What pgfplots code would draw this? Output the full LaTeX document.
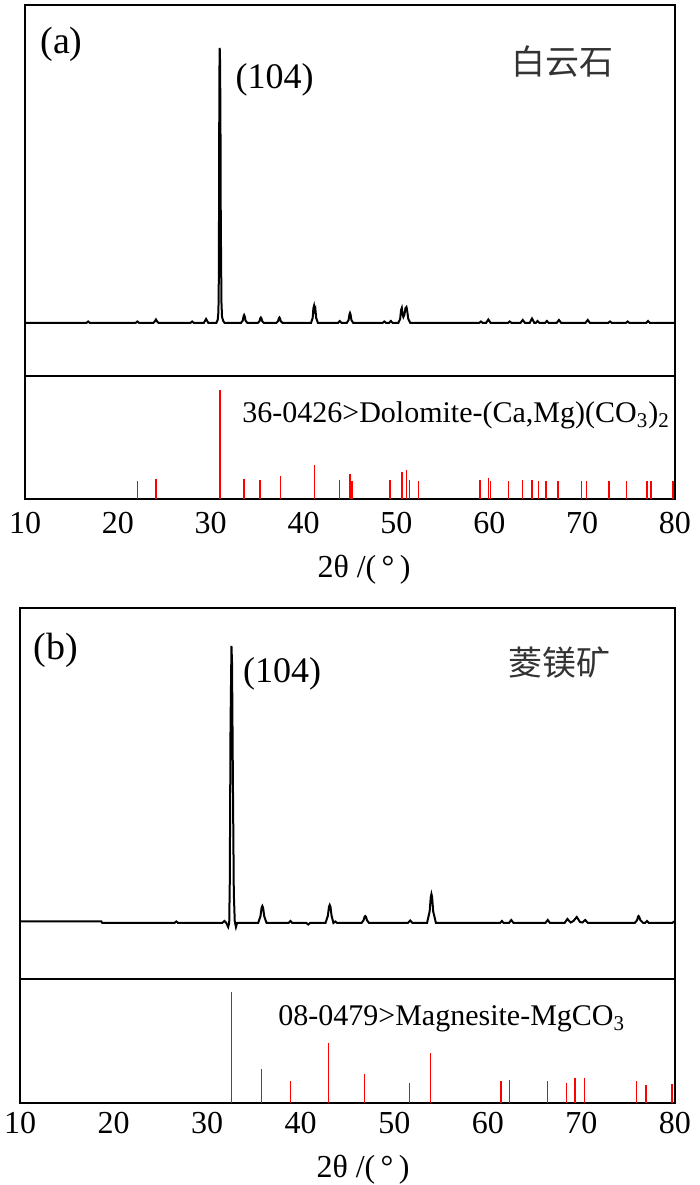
\documentclass[border=0pt]{standalone}
\usepackage{fontspec}
\setmainfont{Liberation Serif}
\newfontfamily\cjk{Noto Sans CJK SC}
\usepackage{pgfplots}
\pgfplotsset{compat=1.18}

% 1 px of the reference = 0.5pt
\pgfplotsset{
  xrd/.style={scale only axis, xmin=10, xmax=80, ytick=\empty,
    axis line style={line width=1.1pt}, anchor=south west},
  pattern/.style={xrd, xtick=\empty},
  card/.style={xrd, ymin=0, ymax=123, xtick={10,20,...,80}, major tick length=0pt,
    /pgf/number format/assume math mode=true,
    xticklabel style={font=\fontsize{16}{16}\selectfont, anchor=base}},
}

\begin{document}
\begin{tikzpicture}
\useasboundingbox (0,0) rectangle (350pt,592.5pt);

% ---------------- (a) dolomite ----------------
\begin{axis}[pattern, at={(12.5pt,404.5pt)}, width=325pt, height=185.5pt,
    ymin=-53, ymax=318]
\addplot[black, line width=1pt] coordinates {
 (10,0) (16.6,0)(16.8,1.5)(17.0,0) (21.9,0)(22.1,1.5)(22.3,0)
 (23.8,0)(23.95,1.2)(24.1,3.5)(24.25,1.2)(24.4,0)
 (27.8,0)(28.0,1.5)(28.2,0) (29.25,0)(29.5,4)(29.75,0)
 (30.6,0)(30.75,3)(30.82,10)(30.86,26)(30.9,120)(30.93,246)(30.97,275)(31.01,260)
 (31.05,200)(31.08,114)(31.12,60)(31.16,20)(31.22,6)(31.35,2)(31.5,0)
 (33.25,0)(33.45,2.4)(33.54,6.8)(33.6,8)(33.66,6.8)(33.75,2.4)(33.95,0)
 (35.05,0)(35.25,1.7)(35.34,4.7)(35.4,5.5)(35.46,4.7)(35.55,1.7)(35.75,0)
 (37.05,0)(37.25,1.7)(37.34,4.7)(37.4,5.5)(37.46,4.7)(37.55,1.7)(37.75,0)
 (40.8,0)(40.98,5)(41.06,15)(41.12,17)(41.18,12)(41.22,11)(41.28,13)(41.36,5)(41.55,0)
 (43.7,0)(43.9,2)(44.1,0)
 (44.65,0)(44.85,3)(44.94,8.5)(45.0,10)(45.06,8.5)(45.15,3)(45.35,0)
 (48.5,0)(48.7,1.5)(48.9,0) (49.2,0)(49.4,2)(49.6,0)
 (50.2,0)(50.4,4)(50.5,13)(50.58,15)(50.66,9)(50.75,6)(50.85,8)(50.98,15)(51.08,16)(51.16,12)(51.28,4)(51.5,0)
 (58.9,0)(59.1,1.5)(59.3,0) (59.65,0)(59.9,3.5)(60.15,0)
 (62.0,0)(62.2,1.5)(62.4,0) (63.35,0)(63.6,3)(63.85,0)
 (64.35,0)(64.6,4.5)(64.85,0) (65.0,0)(65.2,2)(65.4,0)
 (66.0,0)(66.2,2)(66.4,0) (67.25,0)(67.5,3)(67.75,0)
 (70.35,0)(70.6,3)(70.85,0) (72.8,0)(73.0,1.5)(73.2,0)
 (74.7,0)(74.9,1.5)(75.1,0) (76.9,0)(77.1,2)(77.3,0) (80,0)
};
\end{axis}

\begin{axis}[card, at={(12.5pt,343pt)}, width=325pt, height=61.5pt,
    xticklabel style={yshift=-17.5pt}]
\addplot[ycomb, red, line width=0.7pt, no marks] coordinates {
 (22.1,18) (24.1,20) (31.0,109) (33.6,20) (35.3,19) (37.5,23) (41.2,34)
 (43.9,19) (45.0,25) (45.2,18) (49.3,19) (50.6,27) (51.1,29) (51.4,19)
 (52.4,18) (59.0,19) (59.9,21) (60.1,18) (62.1,18) (63.6,19) (64.6,19)
 (65.3,18) (66.1,18) (67.4,18) (69.9,18) (70.5,18) (72.9,18) (74.8,18)
 (77.0,18) (77.4,18) (79.8,18)
};
\end{axis}

% ---------------- (b) magnesite ----------------
\begin{axis}[pattern, at={(10pt,103pt)}, width=327.5pt, height=185.5pt,
    ymin=-56, ymax=315]
\addplot[black, line width=1pt] coordinates {
 (10,1.5)(18.7,1.5)(18.8,0) (26.5,0)(26.7,1.5)(26.9,0)
 (31.6,0)(31.85,2)(32.05,0)(32.25,-4)(32.36,0)(32.42,41)(32.5,198)(32.6,277)
 (32.66,260)(32.75,146)(32.85,30)(32.95,2)(33.08,-4)(33.2,0)
 (35.45,0)(35.7,6.8)(35.82,15.3)(35.9,17)(35.98,15.3)(36.1,6.8)(36.35,0)
 (38.7,0)(38.9,2)(39.1,0) (40.6,0)(40.8,-1.5)(41.0,0)
 (42.65,0)(42.9,7.2)(43.02,16.2)(43.1,18)(43.18,16.2)(43.3,7.2)(43.5,0)(43.7,1.5)(43.9,0)
 (46.5,0)(46.72,2.8)(46.83,6.3)(46.9,7)(46.97,6.3)(47.08,2.8)(47.3,0)
 (51.45,0)(51.7,2.5)(51.95,0)
 (53.5,0)(53.78,11.6)(53.9,26)(53.97,29)(54.04,26)(54.16,11.6)(54.45,0)
 (61.3,0)(61.5,2)(61.7,0) (62.25,0)(62.5,3)(62.75,0)
 (66.15,0)(66.4,3)(66.65,0)
 (68.2,0)(68.5,4)(68.85,0.5)(69.15,2)(69.5,6)(69.85,1)(70.1,0.5)(70.4,3)(70.7,0)
 (75.7,0)(75.95,2.8)(76.05,6.3)(76.1,7)(76.17,6.3)(76.3,2.8)(76.6,0)
 (76.8,0)(77.0,2)(77.2,0) (79.7,0)(80,2)
};
\end{axis}

\begin{axis}[card, at={(10pt,41pt)}, width=327.5pt, height=62pt,
    xticklabel style={yshift=-15.5pt}]
\addplot[ycomb, red, line width=0.7pt, no marks] coordinates {
 (32.6,110) (35.8,34) (38.9,22) (43.0,60) (46.8,29) (51.6,20) (53.9,50)
 (61.4,22) (62.3,23) (66.4,22) (68.4,20) (69.3,25) (70.3,25) (75.9,22)
 (76.9,18) (79.7,19)
};
\end{axis}

% ---------------- labels ----------------
\node[font=\fontsize{19}{19}\selectfont] at (30.75pt,570.5pt) {(a)};
\node[font=\fontsize{18}{18}\selectfont] at (137.25pt,552.5pt) {(104)};
\node[font=\cjk\fontsize{17}{17}\selectfont, text=black!80] at (281pt,561.5pt) {白云石};
\node[font=\fontsize{15}{15}\selectfont, anchor=base west, inner sep=0pt] at (121pt,381pt)
  {36-0426>Dolomite-(Ca,Mg)(CO\textsubscript{3})\textsubscript{2}};
\node[font=\fontsize{16}{16}\selectfont, anchor=base] at (182pt,303.5pt) {2θ /(\,°\,)};

\node[font=\fontsize{19}{19}\selectfont] at (28pt,267.5pt) {(b)};
\node[font=\fontsize{18}{18}\selectfont] at (141pt,255.5pt) {(104)};
\node[font=\cjk\fontsize{17}{17}\selectfont, text=black!80] at (279.5pt,261pt) {菱镁矿};
\node[font=\fontsize{15}{15}\selectfont, anchor=base west, inner sep=0pt] at (139pt,79.5pt)
  {08-0479>Magnesite-MgCO\textsubscript{3}};
\node[font=\fontsize{16}{16}\selectfont, anchor=base] at (181.5pt,3.5pt) {2θ /(\,°\,)};
\end{tikzpicture}
\end{document}
